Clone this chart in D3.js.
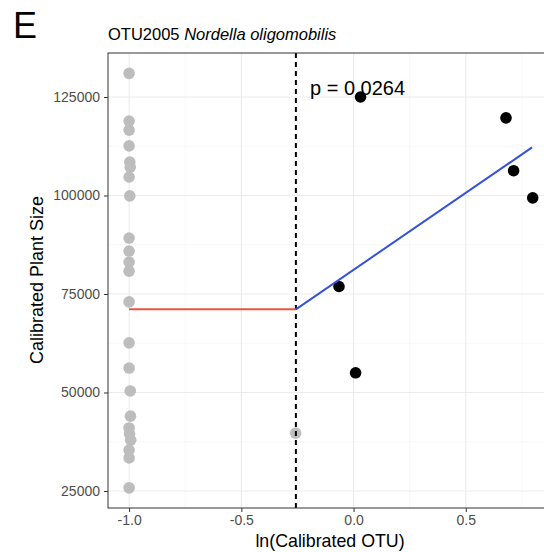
<!DOCTYPE html>
<html><head><meta charset="utf-8">
<script src="https://cdn.jsdelivr.net/npm/d3@7"></script>
<style>body{margin:0;background:#fff}svg{display:block;font-family:Arial,"Liberation Sans",sans-serif}</style>
</head><body>
<svg id="chart" width="544" height="552"></svg>
<script>
// ---- data ----
const panelLabel = "E";
const titleId = "OTU2005 ";
const titleSpecies = "Nordella oligomobilis";
const xLabel = "ln(Calibrated OTU)";
const yLabel = "Calibrated Plant Size";
const pText = "p = 0.0264";
const xTicks = [-1.0, -0.5, 0.0, 0.5];
const xMinor = [-0.75, -0.25, 0.25, 0.75];
const yTicks = [25000, 50000, 75000, 100000, 125000];
const yMinor = [37500, 62500, 87500, 112500];
const threshold = -0.257;
// gray points (below threshold)
const lowX = [-1.0, -1.0, -1.0, -1.0, -0.997, -0.995, -1.0, -0.997, -1.0, -1.0, -1.0, -1.0, -1.0, -1.0, -1.0, -0.995, -0.994, -1.0, -0.998, -0.993, -1.0, -1.0, -1.0, -0.258];
const lowY = [131000, 118900, 116600, 112600, 108500, 107200, 104700, 99900, 89200, 85900, 83100, 80800, 73000, 62600, 56200, 50400, 44000, 41000, 39500, 37900, 35400, 33400, 25800, 39700];
// black points (above threshold)
const highX = [0.031, 0.679, 0.713, 0.798, -0.065, 0.009];
const highY = [125000, 119700, 106300, 99400, 76900, 55000];
// fitted segments
const redSeg = {x: [-1.0, threshold], y: [71100, 71100]};
const blueSeg = {x: [threshold, 0.795], y: [71100, 112200]};

// ---- layout ----
const svg = d3.select("#chart");
const L = 108, R = 551, T = 53, B = 508;
const x = d3.scaleLinear().domain([-1.094, 0.8795]).range([L, R]);
const y = d3.scaleLinear().domain([20685, 136170]).range([B, T]);

svg.append("defs").append("clipPath").attr("id","clip")
  .append("rect").attr("x",L).attr("y",T).attr("width",R-L).attr("height",B-T);

const g = svg.append("g");
// grid
g.selectAll(".xminor").data(xMinor).join("line")
  .attr("x1",d=>x(d)).attr("x2",d=>x(d)).attr("y1",T).attr("y2",B)
  .attr("stroke","#f2f2f2").attr("stroke-width",0.6);
g.selectAll(".yminor").data(yMinor).join("line")
  .attr("y1",d=>y(d)).attr("y2",d=>y(d)).attr("x1",L).attr("x2",R)
  .attr("stroke","#f2f2f2").attr("stroke-width",0.6);
g.selectAll(".xmaj").data(xTicks).join("line")
  .attr("x1",d=>x(d)).attr("x2",d=>x(d)).attr("y1",T).attr("y2",B)
  .attr("stroke","#ebebeb").attr("stroke-width",1.1);
g.selectAll(".ymaj").data(yTicks).join("line")
  .attr("y1",d=>y(d)).attr("y2",d=>y(d)).attr("x1",L).attr("x2",R)
  .attr("stroke","#ebebeb").attr("stroke-width",1.1);

const plot = svg.append("g").attr("clip-path","url(#clip)");
// gray points
plot.selectAll(".low").data(lowX.map((d,i)=>[d,lowY[i]])).join("circle")
  .attr("cx",d=>x(d[0])).attr("cy",d=>y(d[1])).attr("r",5.8).attr("fill","#bdbdbd");
// dashed threshold
plot.append("line").attr("x1",x(threshold)).attr("x2",x(threshold)).attr("y1",T).attr("y2",B)
  .attr("stroke","#000").attr("stroke-width",2).attr("stroke-dasharray","5,4");
// black points
plot.selectAll(".high").data(highX.map((d,i)=>[d,highY[i]])).join("circle")
  .attr("cx",d=>x(d[0])).attr("cy",d=>y(d[1])).attr("r",5.8).attr("fill","#000");
// segments
const line = d3.line().x(d=>x(d[0])).y(d=>y(d[1]));
plot.append("path").datum(redSeg.x.map((d,i)=>[d,redSeg.y[i]])).attr("d",line)
  .attr("fill","none").attr("stroke","#e8553e").attr("stroke-width",2);
plot.append("path").datum(blueSeg.x.map((d,i)=>[d,blueSeg.y[i]])).attr("d",line)
  .attr("fill","none").attr("stroke","#3552d8").attr("stroke-width",2);

// border
svg.append("rect").attr("x",L).attr("y",T).attr("width",R-L).attr("height",B-T)
  .attr("fill","none").attr("stroke","#333").attr("stroke-width",1);

// axes
const xa = svg.append("g").attr("transform",`translate(0,${B})`)
  .call(d3.axisBottom(x).tickValues(xTicks).tickFormat(d3.format(".1f")).tickSize(4).tickPadding(3));
const ya = svg.append("g").attr("transform",`translate(${L},0)`)
  .call(d3.axisLeft(y).tickValues(yTicks).tickFormat(d=>String(d)).tickSize(4).tickPadding(4));
[xa,ya].forEach(a=>{
  a.select(".domain").remove();
  a.selectAll(".tick line").attr("stroke","#333");
  a.selectAll(".tick text").attr("fill","#4d4d4d").style("font-size","14px").style("font-family","Arial,'Liberation Sans',sans-serif");
});
xa.selectAll(".tick text").text(d=>d3.format(".1f")(d).replace("−","-"));

// p-value
svg.append("text").attr("x",310).attr("y",95).text(pText)
  .style("font-size","20px").attr("fill","#000");

// titles
svg.append("text").attr("x",13).attr("y",38).text(panelLabel).style("font-size","36px").attr("fill","#000");
const tt = svg.append("text").attr("x",108).attr("y",40).style("font-size","16.5px").attr("fill","#000");
tt.append("tspan").text(titleId);
tt.append("tspan").text(titleSpecies).style("font-style","italic");
svg.append("text").attr("x",330).attr("y",547).attr("text-anchor","middle").text(xLabel).style("font-size","17.8px");
svg.append("text").attr("transform","translate(43,280) rotate(-90)").attr("text-anchor","middle").text(yLabel).style("font-size","18px");
</script>
</body></html>
